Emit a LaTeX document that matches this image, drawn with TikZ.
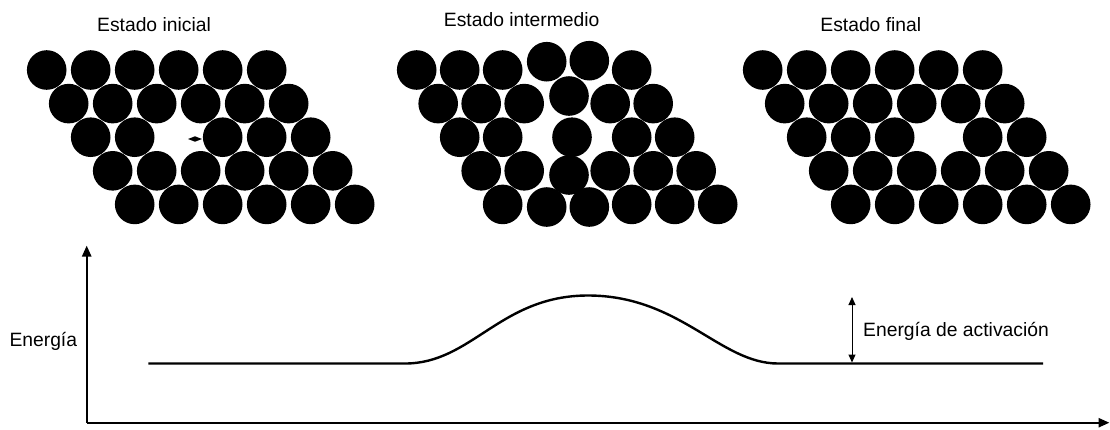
\documentclass[tikz,border=0pt]{standalone}
\usepackage{fontspec}
\setmainfont{Liberation Sans}
\usetikzlibrary{arrows.meta}
\begin{document}
\begin{tikzpicture}[x=1pt,y=-1pt,
  atom/.style={circle,fill=black,draw=none,minimum size=39.6pt,inner sep=0pt,outer sep=0pt},
  lbl/.style={font=\fontsize{19.3pt}{23pt}\selectfont,inner sep=0pt,anchor=base},
  axis/.style={line width=2.4pt,-{Triangle[length=11pt,width=9pt]}},
  curve/.style={line width=2.4pt},
  gap/.style={line width=1pt,{Triangle[length=8pt,width=7pt]}-{Triangle[length=8pt,width=7pt]}}
]
\useasboundingbox (0,0) rectangle (1110,429);

% titles
\node[lbl] (t-ini) at (154,31.7) {Estado inicial};
\node[lbl] (t-mid) at (521.7,26) {Estado intermedio};
\node[lbl] (t-fin) at (870.8,31.7) {Estado final};

% initial state: vacancy at row 2, column 2
\foreach \r in {0,...,4}
  \foreach \c in {0,...,5}{
    \ifnum\numexpr\r*10+\c\relax=22 \else
      \node[atom] (ini-\r-\c) at ({46.7+22*\r+44*\c},{70+33.6*\r}) {};
    \fi
  }
% small mark left of the jumping atom
\fill (188,139) -- (195,136.3) -- (202,139) -- (195,141.7) -- cycle;

% intermediate state: atoms on their sites
\foreach \r/\c in {0/0,0/1,0/2,0/5,
                   1/0,1/1,1/2,1/4,1/5,
                   2/0,2/1,2/4,2/5,
                   3/0,3/1,3/3,3/4,3/5,
                   4/0,4/3,4/4,4/5}
  \node[atom] (mid-\r-\c) at ({416.7+21.5*\r+43*\c},{70+33.6*\r}) {};
% intermediate state: displaced neighbours and the atom between two sites
\node[atom] (mid-0-3) at (546.7,61.7) {};
\node[atom] (mid-0-4) at (589.3,60.7) {};
\node[atom] (mid-1-3) at (569,96) {};
\node[atom] (mid-3-2) at (569,175) {};
\node[atom] (mid-4-1) at (546.7,207) {};
\node[atom] (mid-4-2) at (589.3,207) {};
\node[atom] (mid-jump) at (572,137.2) {};

% final state: vacancy at row 2, column 3
\foreach \r in {0,...,4}
  \foreach \c in {0,...,5}{
    \ifnum\numexpr\r*10+\c\relax=23 \else
      \node[atom] (fin-\r-\c) at ({762.7+22*\r+44*\c},{70+33.6*\r}) {};
    \fi
  }

% energy axes
\coordinate (origin) at (86.7,422.7);
\coordinate (ytip) at (86.7,245.5);
\coordinate (xtip) at (1109.5,422.7);
\draw[axis] (origin) -- (ytip);
\draw[axis] (origin) -- (xtip);
\node[lbl,anchor=base west] (e-lbl) at (9.3,346) {Energía};

% energy profile
\coordinate (b0) at (148.3,363.5);
\coordinate (r0) at (405,363.5);
\coordinate (pk) at (588,295.5);
\coordinate (f1) at (778,363.5);
\coordinate (b1) at (1043,363.5);
\draw[curve] (b0) -- (r0) .. controls (472,363.5) and (500,295.5) .. (pk)
  .. controls (680,295.5) and (720,363.5) .. (f1) -- (b1);

% activation energy
\coordinate (a-top) at (852,297);
\coordinate (a-bot) at (852,362.5);
\draw[gap] (a-top) -- (a-bot);
\node[lbl,anchor=base west] (ea-lbl) at (863,336.5) {Energía de activación};
\end{tikzpicture}
\end{document}
